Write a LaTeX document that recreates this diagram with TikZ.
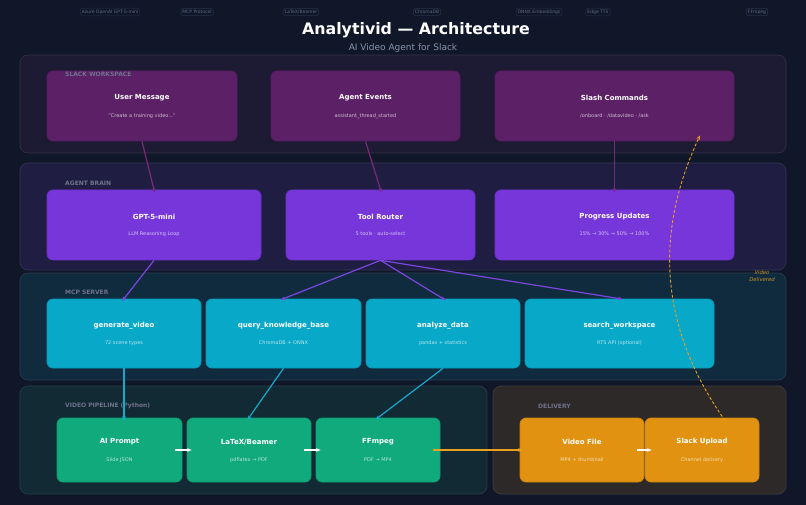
\documentclass[tikz,border=0pt]{standalone}
\usepackage{fontspec}
\setmainfont{DejaVu Sans}
\usetikzlibrary{arrows.meta,positioning}
\definecolor{night}{RGB}{15,23,40}
\definecolor{slackbg}{RGB}{29,26,51}
\definecolor{brainbg}{RGB}{31,30,66}
\definecolor{mcpbg}{RGB}{16,42,62}
\definecolor{pipebg}{RGB}{17,42,52}
\definecolor{delivbg}{RGB}{45,41,41}
\definecolor{plumbox}{RGB}{92,32,102}
\definecolor{violetbox}{RGB}{118,54,218}
\definecolor{aquabox}{RGB}{8,168,200}
\definecolor{mintbox}{RGB}{16,170,124}
\definecolor{amberbox}{RGB}{224,146,16}
\definecolor{bandtext}{RGB}{112,114,140}
\definecolor{subgrey}{RGB}{136,149,173}
\definecolor{techtext}{RGB}{95,107,133}
\definecolor{techedge}{RGB}{38,50,74}
\definecolor{plumline}{RGB}{122,42,120}
\definecolor{violetline}{RGB}{123,70,224}
\definecolor{aqualine}{RGB}{24,168,204}
\definecolor{amberline}{RGB}{232,160,32}
\definecolor{notetext}{RGB}{200,145,40}
\tikzset{
  >={Stealth[length=4.5pt,width=3.6pt]},
  band/.style={fill=#1,draw=#1!90!white,rounded corners=8pt,line width=0.6pt,inner sep=0pt},
  box/.style={fill=#1,draw=#1!92!black,rounded corners=6pt,line width=0.7pt,inner sep=0pt},
  ttl/.style={text=white,font=\fontsize{7}{8}\selectfont\bfseries},
  subtxt/.style={text=#1!30!white,font=\fontsize{5}{6}\selectfont},
  lbl/.style={text=bandtext,font=\fontsize{6}{7}\selectfont\bfseries,anchor=west,inner sep=0pt},
  tech/.style={draw=techedge,rounded corners=1.5pt,inner sep=1.6pt,line width=0.5pt,
    text=techtext,font=\fontsize{4.5}{5}\selectfont},
  flow/.style={->,line width=1.2pt,draw=#1,shorten >=-3pt},
  hop/.style={->,draw=white,line width=1.1pt},
  back/.style={->,draw=amberline,line width=0.9pt,dash pattern=on 3pt off 2pt},
  note/.style={text=notetext,font=\fontsize{5.3}{6.5}\selectfont\itshape,align=center},
}
\begin{document}
\begin{tikzpicture}[x=1pt,y=-1pt]
  \fill[night] (0,0) rectangle (806,505);
  \useasboundingbox (0,0) rectangle (806,505);
  % header
  \foreach \t/\x [count=\i] in {Azure OpenAI GPT-5-mini/110,MCP Protocol/197,{LaTeX/Beamer}/301,
    ChromaDB/427,ONNX Embeddings/539,Edge TTS/598,FFmpeg/757}
    \node[tech] (tech\i) at (\x,12) {\t};
  \node[text=white,font=\fontsize{15.8}{18}\selectfont\bfseries] (title) at (416,30) {Analytivid — Architecture};
  \node[text=subgrey,font=\fontsize{9}{11}\selectfont] (subtitle) at (403,48) {AI Video Agent for Slack};
  % bands
  \node[band=slackbg,minimum width=766pt,minimum height=98pt] (Lslack) at (403,104) {};
  \node[band=brainbg,minimum width=766pt,minimum height=107pt] (Lbrain) at (403,216.5) {};
  \node[band=mcpbg,minimum width=766pt,minimum height=107pt] (Lmcp) at (403,326.5) {};
  \node[band=pipebg,minimum width=467pt,minimum height=108pt] (Lpipe) at (253.5,440) {};
  \node[band=delivbg,minimum width=293pt,minimum height=108pt] (Ldeliv) at (639.5,440) {};
  % slack workspace
  \foreach \n/\x/\w/\t/\s in {umsg/142/190/User Message/{"Create a training video..."},
    aevt/365.5/189/Agent Events/assistant\_thread\_started,
    slash/614.5/239/Slash Commands/{/onboard · /datavideo · /ask}}{
    \node[box=plumbox,minimum width=\w pt,minimum height=70pt] (\n) at (\x,106) {};
    \node[ttl] at ([yshift=8pt]\n.center) {\t};
    \node[subtxt=plumbox] at ([yshift=-10pt]\n.center) {\s};
  }
  % agent brain
  \foreach \n/\x/\w/\t/\s in {gpt/154/214/GPT-5-mini/LLM Reasoning Loop,
    router/380.5/189/Tool Router/5 tools · auto-select,
    prog/614.5/239/Progress Updates/15\% → 30\% → 50\% → 100\%}{
    \node[box=violetbox,minimum width=\w pt,minimum height=70pt] (\n) at (\x,225) {};
    \node[ttl] at ([yshift=8pt]\n.center) {\t};
    \node[subtxt=violetbox] at ([yshift=-9pt]\n.center) {\s};
  }
  % mcp server
  \foreach \n/\x/\w/\t/\s in {gen/124/154/generate\_video/72 scene types,
    qkb/283.5/155/query\_knowledge\_base/ChromaDB + ONNX,
    anl/443/154/analyze\_data/pandas + statistics,
    srch/619.5/189/search\_workspace/RTS API (optional)}{
    \node[box=aquabox,minimum width=\w pt,minimum height=69pt] (\n) at (\x,333.5) {};
    \node[ttl] at ([yshift=7.5pt]\n.center) {\t};
    \node[subtxt=aquabox] at ([yshift=-9.5pt]\n.center) {\s};
  }
  % video pipeline and delivery
  \foreach \n/\x/\w/\c/\t/\s in {prompt/119.5/125/mintbox/AI Prompt/Slide JSON,
    latex/249/124/mintbox/{LaTeX/Beamer}/pdflatex → PDF,
    ffm/378/124/mintbox/FFmpeg/PDF → MP4,
    vfile/582/124/amberbox/Video File/MP4 + thumbnail,
    upload/702/114/amberbox/Slack Upload/Channel delivery}{
    \node[box=\c,minimum width=\w pt,minimum height=64pt] (\n) at (\x,450) {};
    \node[ttl] at ([yshift=8pt]\n.center) {\t};
    \node[subtxt=\c] at ([yshift=-10pt]\n.center) {\s};
  }
  % band labels sit on top of the boxes
  \node[lbl] at (65,74) {SLACK WORKSPACE};
  \node[lbl] at (65,183) {AGENT BRAIN};
  \node[lbl] at (65,292) {MCP SERVER};
  \node[lbl] at (65,406) {VIDEO PIPELINE (Python)};
  \node[lbl] at (538,406) {DELIVERY};
  % connectors
  \draw[flow=plumline] (umsg.south) -- (gpt.north);
  \draw[flow=plumline] (aevt.south) -- (router.north);
  \draw[flow=plumline] (slash.south) -- (prog.north);
  \draw[flow=violetline] (gpt.south) -- (gen.north);
  \foreach \m in {qkb,anl,srch} \draw[flow=violetline] (router.south) -- (\m.north);
  \draw[flow=aqualine] (gen.south) -- (gen.south |- prompt.north);
  \draw[flow=aqualine] (qkb.south) -- (latex.north);
  \draw[flow=aqualine] (anl.south) -- (ffm.north);
  \draw[hop] ([xshift=-7pt]prompt.east) -- ([xshift=5pt]latex.west);
  \draw[hop] ([xshift=-7pt]latex.east) -- ([xshift=5pt]ffm.west);
  \draw[flow=amberline] ([xshift=-7pt]ffm.east) -- (vfile.west);
  \draw[hop] ([xshift=-7pt]vfile.east) -- ([xshift=7pt]upload.west);
  \draw[back] ([xshift=23pt,yshift=-3pt]upload.north) to[bend left=30] ([xshift=85.5pt,yshift=6pt]slash.south);
  \node[note] (delivered) at (762,276) {Video\\Delivered};
\end{tikzpicture}
\end{document}
